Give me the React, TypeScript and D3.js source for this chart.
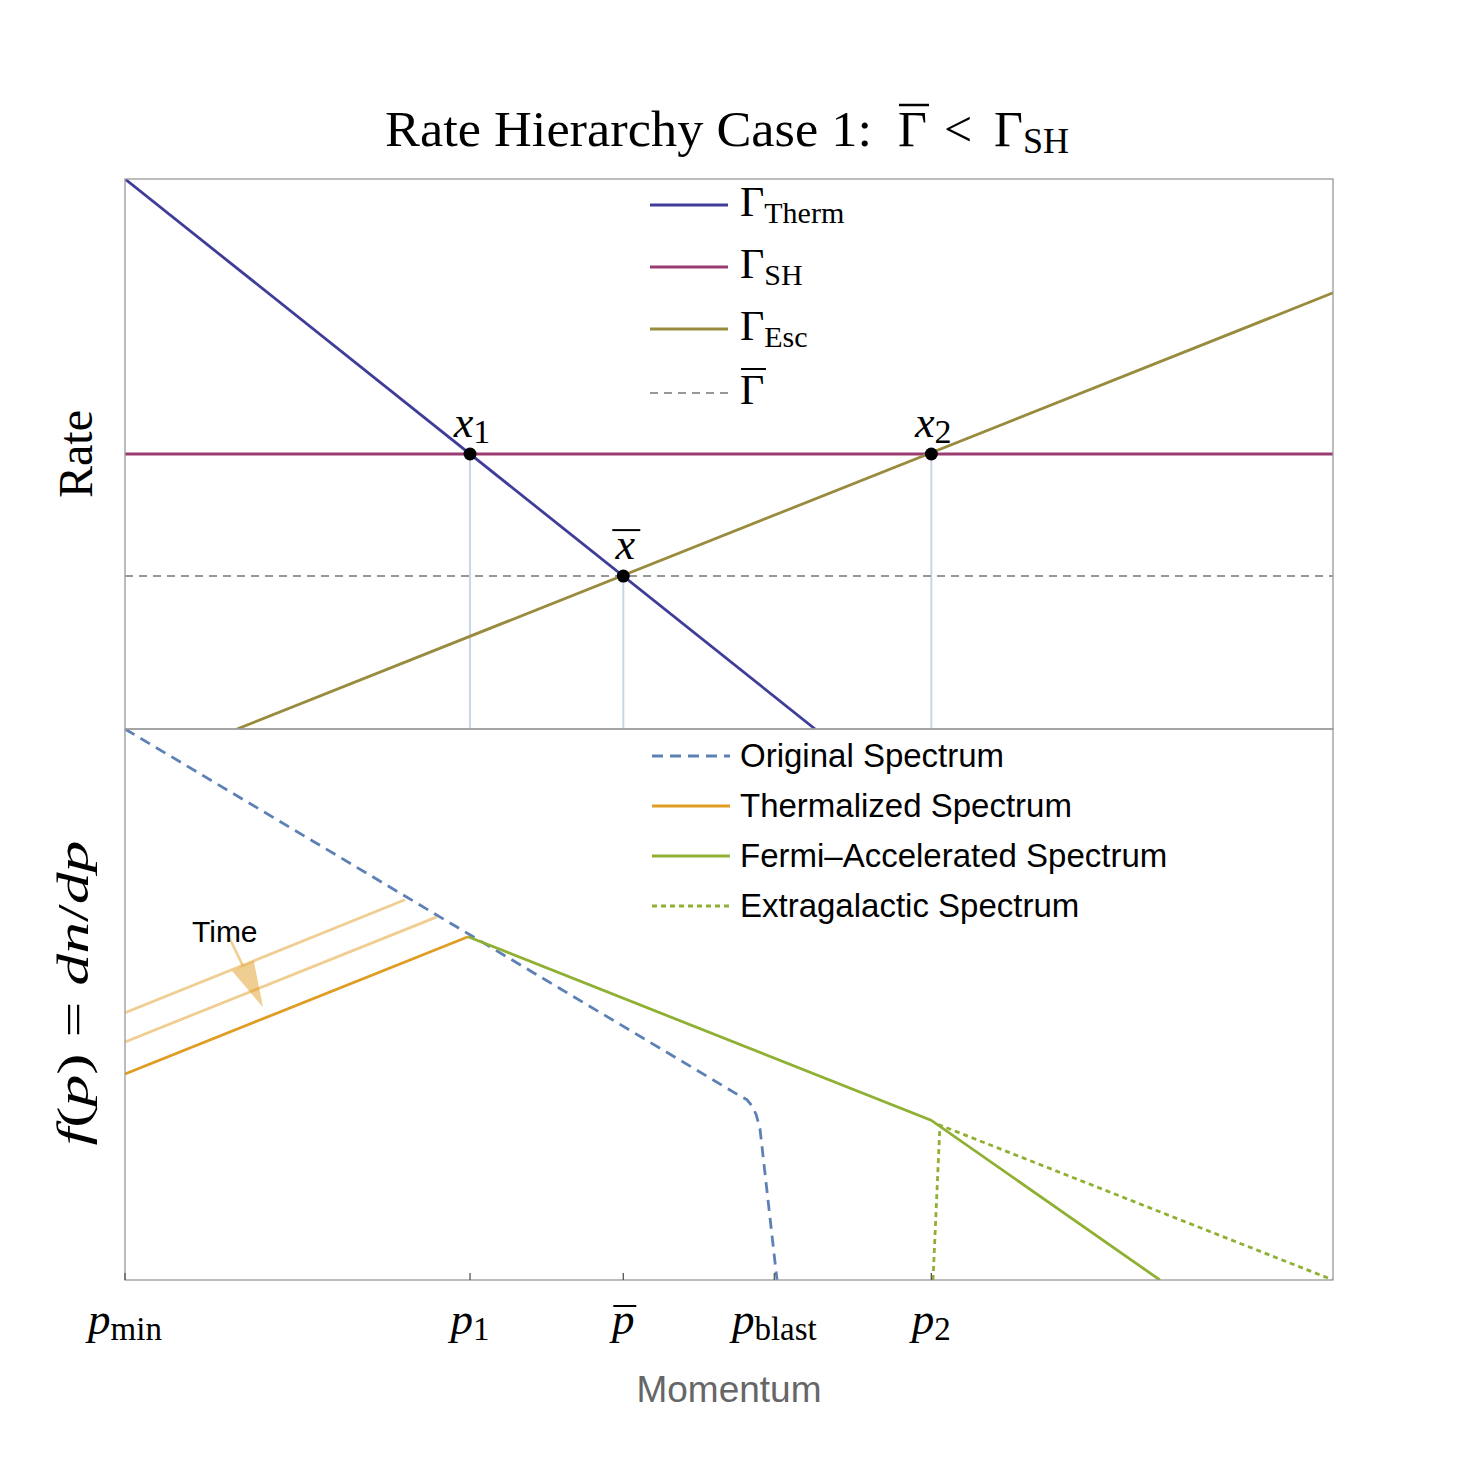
import * as d3 from 'd3';
import React from 'react';

// momentum axis (arbitrary units)
const tickSubs = ['min', '1', '', 'blast', '2'];
const tickValues = [0, 2.285, 3.3, 4.3, 5.34];

// top panel: rates
const thermRate = [[0, 10], [4.57, 0]];
const shRate = [[0, 5], [8, 5]];
const escRate = [[0.742, 0], [8, 7.93]];
const barRate = [[0, 2.78], [8, 2.78]];
const crossNames = ['1', '', '2'];
const crossX = [2.285, 3.3, 5.34];
const crossY = [5, 2.78, 5];

// bottom panel: spectra
const originalSpec = [[0, 10], [4.073, 3.34], [4.12, 3.27], [4.155, 3.15], [4.18, 3.0], [4.205, 2.75], [4.318, 0]];
const thermSpec = [[0, 3.74], [2.272, 6.23]];
const thermSpecEarly = [[[0, 4.85], [1.854, 6.9]], [[0, 4.32], [2.066, 6.59]]];
const fermiSpec = [[2.272, 6.23], [5.338, 2.9], [6.854, 0]];
const extraSpec = [[5.351, 0], [5.397, 2.81], [8, 0]];
const timeArrow = [[0.682, 6.26], [0.914, 4.95]];

const topLegend = ['Therm', 'SH', 'Esc', ''];
const bottomLegend = ['Original Spectrum', 'Thermalized Spectrum', 'Fermi\u2013Accelerated Spectrum', 'Extragalactic Spectrum'];

const c = {
  therm: '#3F3D99', sh: '#993D71', esc: '#998B3D', bar: '#777777',
  blue: '#5E81B5', orange: '#E19C24', green: '#8FB032', frame: '#999999', drop: '#c9d6e8'
};

const serif = '"Liberation Serif", "DejaVu Serif", serif';
const sans = '"Liberation Sans", Arial, sans-serif';

const App = () => {
  const left = 125, right = 1333, top = 179, mid = 729, bottom = 1280;
  const x = d3.scaleLinear().domain([0, 8]).range([left, right]);
  const yTop = d3.scaleLinear().domain([0, 10]).range([mid, top]);
  const yBot = d3.scaleLinear().domain([0, 10]).range([bottom, mid]);

  const lineTop = d3.line<number[]>().x(d => x(d[0])).y(d => yTop(d[1]));
  const lineBot = d3.line<number[]>().x(d => x(d[0])).y(d => yBot(d[1]));

  // arrow geometry
  const ax0 = x(timeArrow[0][0]), ay0 = yBot(timeArrow[0][1]);
  const ax1 = x(timeArrow[1][0]), ay1 = yBot(timeArrow[1][1]);
  const len = Math.hypot(ax1 - ax0, ay1 - ay0);
  const ux = (ax1 - ax0) / len, uy = (ay1 - ay0) / len;
  const headLen = 46, headW = 12;
  const bx = ax1 - ux * headLen, by = ay1 - uy * headLen;
  const head = [[ax1, ay1], [bx - uy * headW, by + ux * headW], [bx + uy * headW, by - ux * headW]];

  const topLegY = [205, 267, 329, 393];
  const botLegY = [756, 806, 856, 906];
  const topColors = [c.therm, c.sh, c.esc, c.bar];
  const botStyles = [
    { color: c.blue, dash: '11,7' },
    { color: c.orange, dash: null },
    { color: c.green, dash: null },
    { color: c.green, dash: '5,4' }
  ];

  return (
    <svg width={1459} height={1459} style={{ position: 'absolute', left: 0, top: 0, background: '#fff' }}>
      <defs>
        <clipPath id="clipTop"><rect x={left} y={top} width={right - left} height={mid - top} /></clipPath>
        <clipPath id="clipBot"><rect x={left} y={mid} width={right - left} height={bottom - mid} /></clipPath>
      </defs>

      {/* title */}
      <g fontFamily={serif} fontSize={50} fill="#000">
        <text x={385} y={146} textLength={487} lengthAdjust="spacingAndGlyphs">Rate Hierarchy Case 1:</text>
        <text x={898} y={146}>Γ</text>
        <line x1={899} x2={929} y1={105} y2={105} stroke="#000" strokeWidth={2.5} />
        <text x={944} y={146}>&lt;</text>
        <text x={994} y={146}>Γ<tspan fontSize={36} dy={7}>SH</tspan></text>
      </g>

      {/* top panel */}
      <g clipPath="url(#clipTop)" fill="none">
        {crossX.map((v, i) => (
          <line key={i} x1={x(v)} x2={x(v)} y1={yTop(crossY[i])} y2={mid} stroke={c.drop} strokeWidth={2} />
        ))}
        <path d={lineTop(barRate) || ''} stroke={c.bar} strokeWidth={1.5} strokeDasharray="8,6" />
        <path d={lineTop(shRate) || ''} stroke={c.sh} strokeWidth={2.8} />
        <path d={lineTop(thermRate) || ''} stroke={c.therm} strokeWidth={2.8} />
        <path d={lineTop(escRate) || ''} stroke={c.esc} strokeWidth={2.8} />
      </g>
      {crossX.map((v, i) => (
        <g key={i}>
          <circle cx={x(v)} cy={yTop(crossY[i])} r={6.5} fill="#000" />
          <text x={x(v) + 2} y={yTop(crossY[i]) - 17} textAnchor="middle"
            fontFamily={serif} fontSize={44}>
            <tspan fontStyle="italic">x</tspan>
            {crossNames[i] && <tspan dy={6} fontSize={34}>{crossNames[i]}</tspan>}
          </text>
          {!crossNames[i] && (
            <line x1={x(v) - 11} x2={x(v) + 17} y1={yTop(crossY[i]) - 46} y2={yTop(crossY[i]) - 46} stroke="#000" strokeWidth={2} />
          )}
        </g>
      ))}

      {/* top legend */}
      <g fontFamily={serif}>
        {topLegend.map((s, i) => (
          <g key={i}>
            <line x1={650} x2={728} y1={topLegY[i]} y2={topLegY[i]} stroke={topColors[i]}
              strokeWidth={i === 3 ? 1.5 : 2.8} strokeDasharray={i === 3 ? '8,6' : undefined} />
            <text x={740} y={topLegY[i] + 11} fontSize={42}>
              Γ{s && <tspan fontSize={30} dy={7}>{s}</tspan>}
            </text>
            {!s && <line x1={741} x2={766} y1={topLegY[i] - 24} y2={topLegY[i] - 24} stroke="#000" strokeWidth={2} />}
          </g>
        ))}
      </g>

      {/* bottom panel */}
      <g clipPath="url(#clipBot)" fill="none">
        {thermSpecEarly.map((d, i) => (
          <path key={i} d={lineBot(d) || ''} stroke={c.orange} strokeOpacity={0.5} strokeWidth={2.8} />
        ))}
        <path d={lineBot(originalSpec) || ''} stroke={c.blue} strokeWidth={2.8} strokeDasharray="11,7" strokeLinejoin="round" />
        <path d={lineBot(thermSpec) || ''} stroke={c.orange} strokeWidth={2.8} />
        <path d={lineBot(fermiSpec) || ''} stroke={c.green} strokeWidth={2.8} />
        <path d={lineBot(extraSpec) || ''} stroke={c.green} strokeWidth={2.8} strokeDasharray="5,4" />
        <line x1={ax0} y1={ay0} x2={bx} y2={by} stroke={c.orange} strokeOpacity={0.5} strokeWidth={2.5} />
        <polygon points={head.map(p => p.join(',')).join(' ')} fill={c.orange} fillOpacity={0.5} stroke="none" />
      </g>
      <text x={192} y={942} fontFamily={sans} fontSize={30} fill="#000">Time</text>

      {/* bottom legend */}
      <g fontFamily={sans} fontSize={33}>
        {bottomLegend.map((s, i) => (
          <g key={i}>
            <line x1={652} x2={730} y1={botLegY[i]} y2={botLegY[i]} stroke={botStyles[i].color} strokeWidth={2.8}
              strokeDasharray={botStyles[i].dash || undefined} />
            <text x={740} y={botLegY[i] + 11} fill="#000">{s}</text>
          </g>
        ))}
      </g>

      {/* frames */}
      <rect x={left} y={top} width={right - left} height={mid - top} fill="none" stroke={c.frame} strokeWidth={1.3} />
      <rect x={left} y={mid} width={right - left} height={bottom - mid} fill="none" stroke={c.frame} strokeWidth={1.3} />

      {/* momentum ticks */}
      {tickValues.map((v, i) => (
        <g key={i}>
          <line x1={x(v)} x2={x(v)} y1={bottom} y2={bottom - 7} stroke="#555" strokeWidth={1.3} />
          <text x={x(v)} y={1334} textAnchor="middle" fontFamily={serif} fontSize={45}>
            <tspan fontStyle="italic">p</tspan>
            {tickSubs[i] && <tspan fontSize={33} dy={6}>{tickSubs[i]}</tspan>}
          </text>
          {!tickSubs[i] && (
            <line x1={x(v) - 10} x2={x(v) + 13} y1={1306} y2={1306} stroke="#000" strokeWidth={2} />
          )}
        </g>
      ))}

      {/* axis labels */}
      <text x={729} y={1402} textAnchor="middle" fontFamily={sans} fontSize={37} fill="#666">Momentum</text>
      <text transform="translate(92,454) rotate(-90)" textAnchor="middle" fontFamily={serif} fontSize={48}>Rate</text>
      <text transform="translate(88,993) rotate(-90)" textAnchor="middle" fontFamily={serif} fontSize={44}
        textLength={305} lengthAdjust="spacingAndGlyphs">
        <tspan fontStyle="italic">f</tspan>(<tspan fontStyle="italic">p</tspan>) = <tspan fontStyle="italic">dn</tspan>/<tspan fontStyle="italic">dp</tspan>
      </text>
    </svg>
  );
};

export default App;
